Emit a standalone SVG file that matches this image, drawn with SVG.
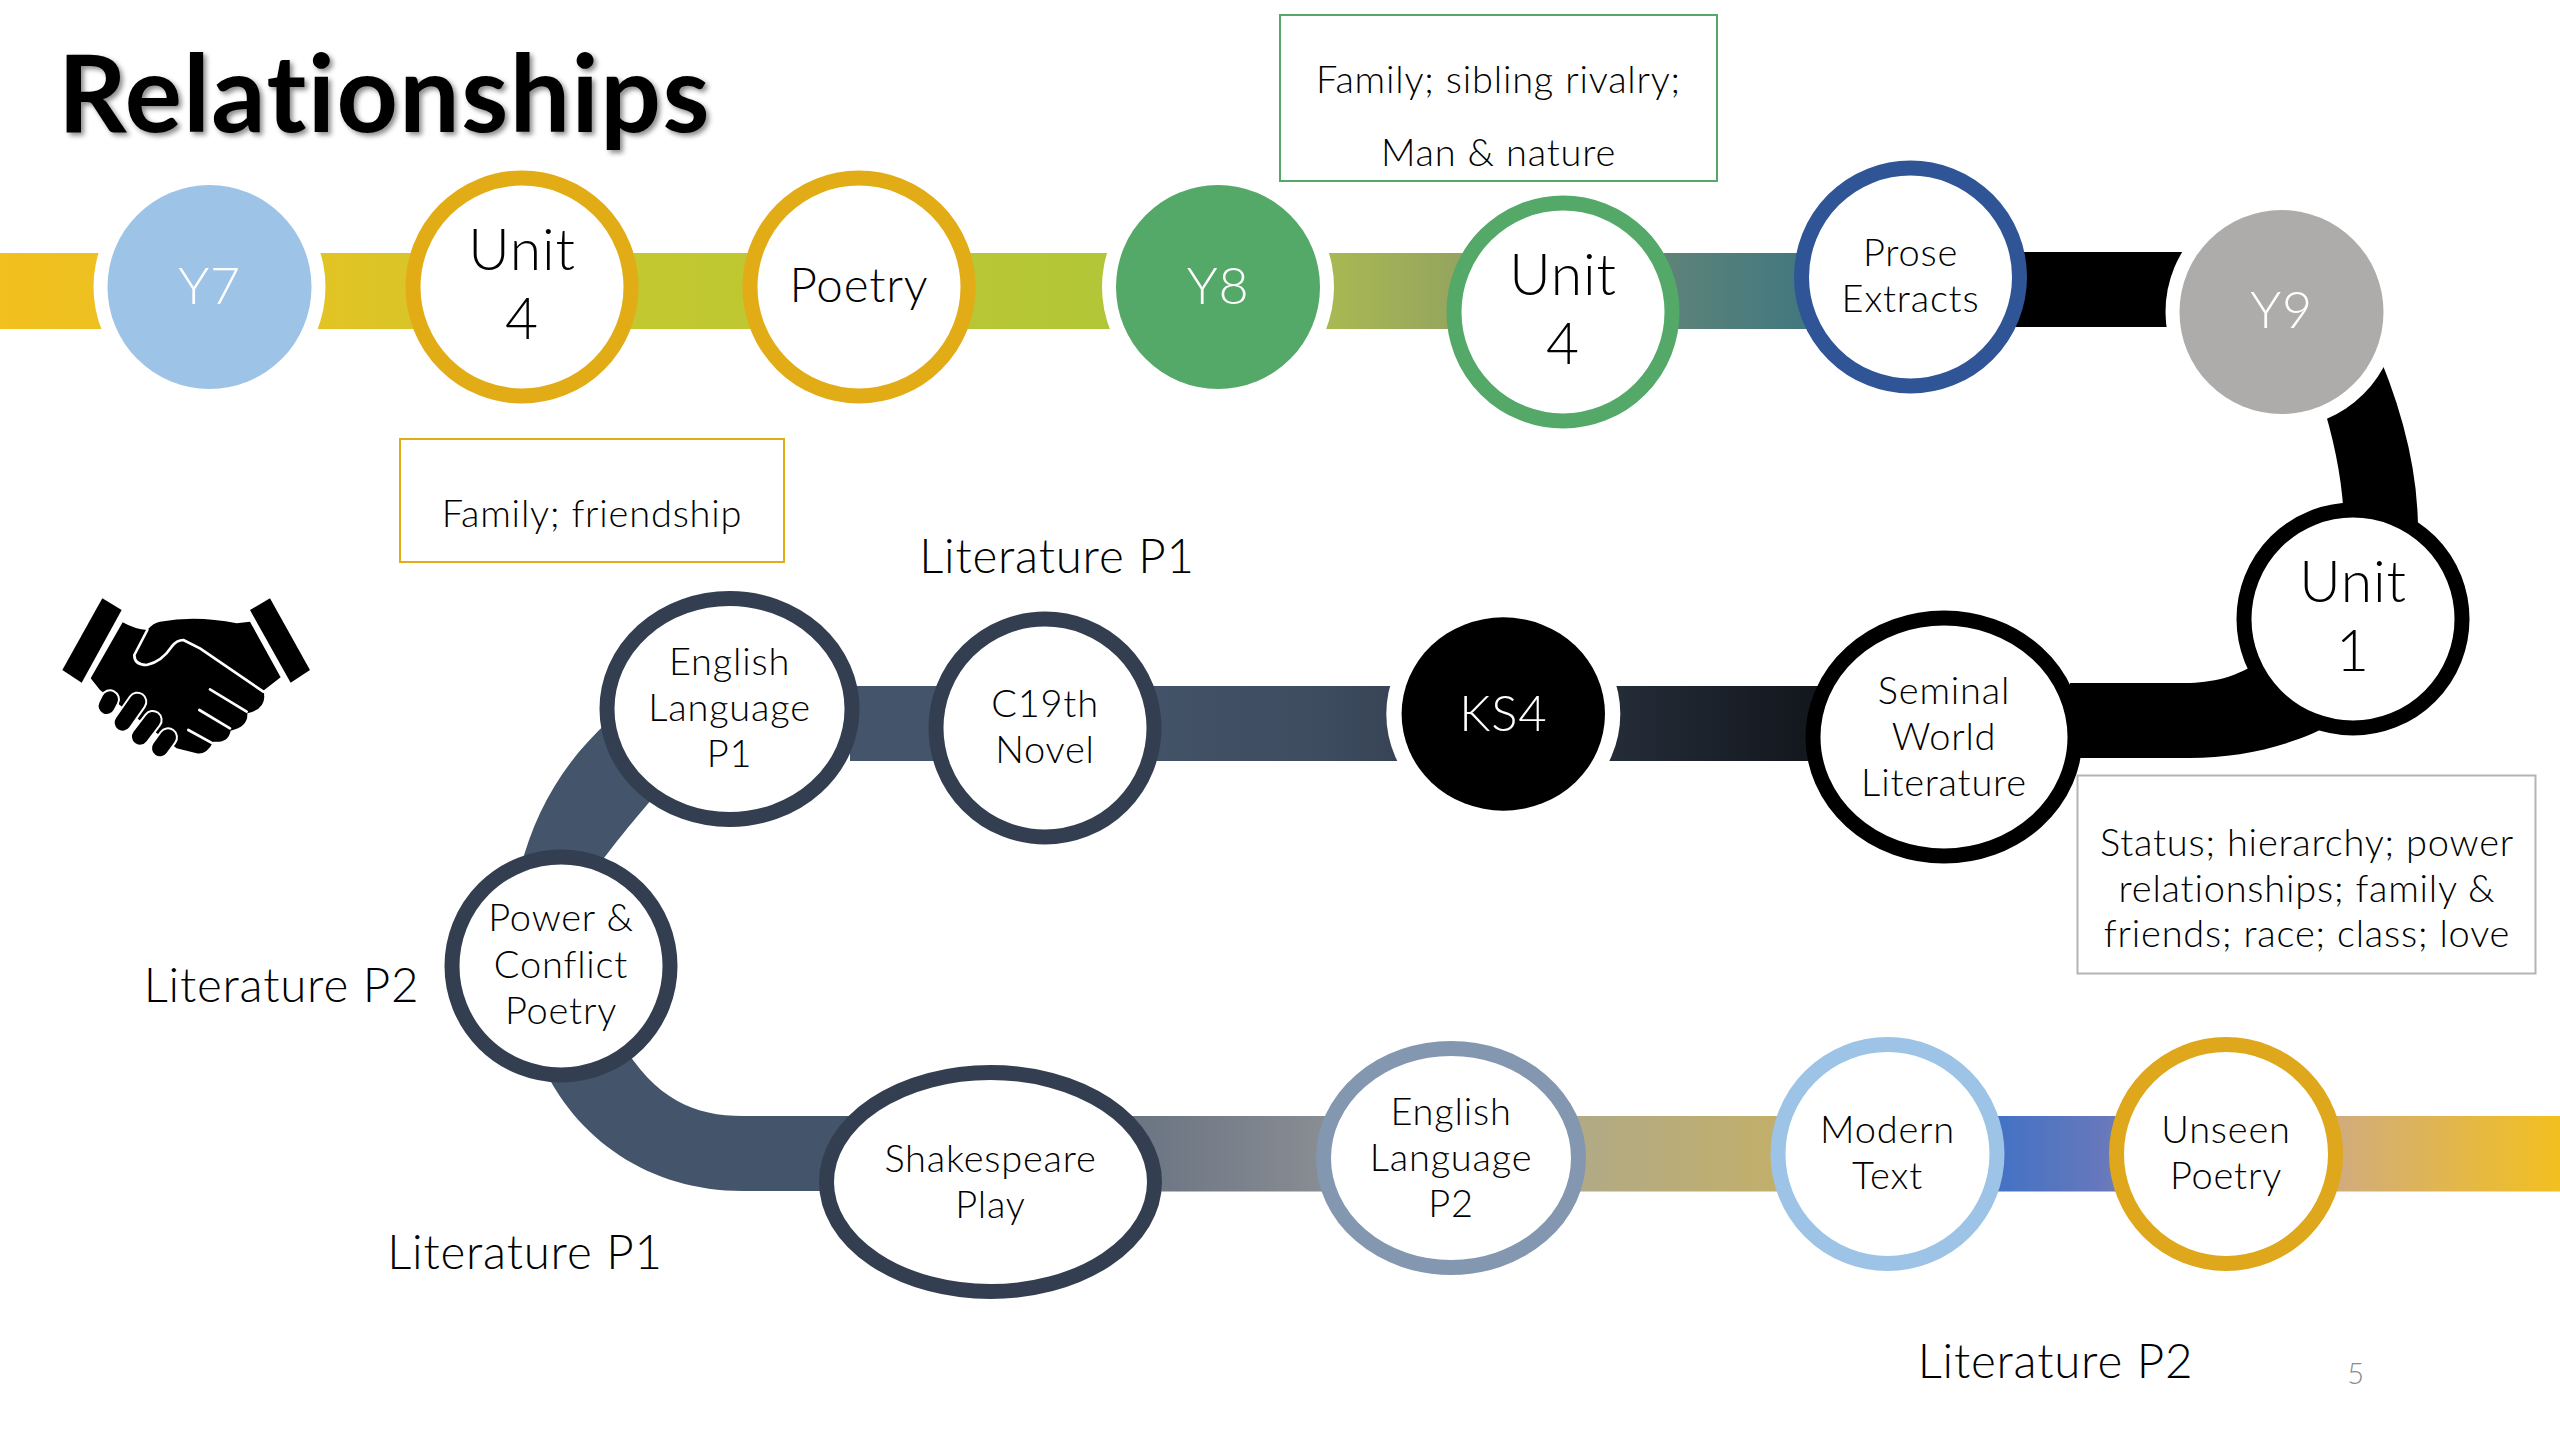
<svg xmlns="http://www.w3.org/2000/svg" width="2560" height="1440" viewBox="0 0 2560 1440">
<style>
text{font-family:Lato,"Liberation Sans",sans-serif;font-weight:300;fill:#000;text-anchor:middle;font-variant-ligatures:none;letter-spacing:.8px}
.big{font-size:57px}.mid{font-size:47.500px}.sm{font-size:38px}.lab{font-size:47.500px}.yr{font-size:52px}
.w{fill:#fff}
.ring{fill:#fff;stroke-width:15}
.halo{fill:#fff}
.box{fill:#fff;stroke-width:2}
.title{font-size:107px;font-weight:700;letter-spacing:1.500px}
</style>
<defs>
<linearGradient id="g1" gradientUnits="userSpaceOnUse" x1="0" y1="0" x2="1800" y2="0">
<stop offset="0" stop-color="#F2C01F"/><stop offset=".178" stop-color="#E3C324"/><stop offset=".355" stop-color="#C2C82F"/><stop offset=".61" stop-color="#B3C637"/><stop offset=".74" stop-color="#A8B852"/><stop offset=".83" stop-color="#8F9F62"/><stop offset=".93" stop-color="#5C8279"/><stop offset="1" stop-color="#42787F"/>
</linearGradient>
<linearGradient id="g2" gradientUnits="userSpaceOnUse" x1="1100" y1="0" x2="1830" y2="0">
<stop offset="0" stop-color="#44546A"/><stop offset=".3" stop-color="#3E4C60"/><stop offset="1" stop-color="#11151B"/>
</linearGradient>
<linearGradient id="g3" gradientUnits="userSpaceOnUse" x1="860" y1="0" x2="2560" y2="0">
<stop offset="0" stop-color="#44546A"/><stop offset=".18" stop-color="#6F7885"/><stop offset=".27" stop-color="#888C93"/><stop offset=".425" stop-color="#B1AA85"/><stop offset=".565" stop-color="#C6B064"/><stop offset=".566" stop-color="#4472C4"/><stop offset=".67" stop-color="#4472C4"/><stop offset=".73" stop-color="#6678BC"/><stop offset=".87" stop-color="#D1AC7C"/><stop offset="1" stop-color="#F2C01F"/>
</linearGradient>
<filter id="sh" x="-5%" y="-20%" width="110%" height="140%"><feDropShadow dx="3" dy="3" stdDeviation="2.500" flood-color="#000" flood-opacity=".45"/></filter>
</defs>
<rect width="2560" height="1440" fill="#fff"/>
<g id="connectors">
<rect x="0" y="253" width="1830" height="76" fill="url(#g1)"/>
<rect x="1900" y="252" width="290" height="75" fill="#000"/>
<path d="M2370 335Q2418 440 2418 530L2418 600C2418 700 2300 758 2190 758L2070 758L2070 683L2186 683C2210 683 2240 677 2260 660L2344 600L2344 530Q2344 470 2320 395Z" fill="#000"/>
<rect x="850" y="686" width="990" height="75" fill="url(#g2)"/>
<path d="M520 870C535 810 565 760 610 720L660 790C625 830 610 850 595 870Z" fill="#44546A"/>
<path d="M540 1060C575 1140 650 1191 743 1191L860 1191L860 1116L743 1116C695 1116 655 1100 620 1040Z" fill="#44546A"/>
<rect x="860" y="1116" width="1700" height="75.500" fill="url(#g3)"/>
</g>
<text class="title" x="384.500" y="132" filter="url(#sh)">Relationships</text>
<g id="y7"><circle class="halo" cx="209.500" cy="287" r="116"/><circle cx="209.500" cy="287" r="102" fill="#9DC3E6"/><text class="yr w" x="209.500" y="304">Y7</text></g>
<g id="unit4a"><circle class="ring" cx="522" cy="287" r="109" stroke="#E2AC17"/><text class="big" x="522" y="270">Unit</text><text class="big" x="522" y="339">4</text></g>
<g id="poetry"><circle class="ring" cx="859" cy="287" r="109" stroke="#E2AC17"/><text class="mid" x="859" y="302">Poetry</text></g>
<g id="y8"><circle class="halo" cx="1218" cy="287" r="116"/><circle cx="1218" cy="287" r="102" fill="#54A868"/><text class="yr w" x="1218" y="304">Y8</text></g>
<g id="unit4b"><circle class="ring" cx="1563" cy="312" r="109" stroke="#54A868"/><text class="big" x="1563" y="295">Unit</text><text class="big" x="1563" y="364">4</text></g>
<g id="prose"><circle class="ring" cx="1910.500" cy="277" r="109" stroke="#2F5597"/><text class="sm" x="1910.500" y="266">Prose</text><text class="sm" x="1910.500" y="312">Extracts</text></g>
<g id="y9"><circle class="halo" cx="2281.500" cy="312" r="116"/><circle cx="2281.500" cy="312" r="102" fill="#AEABAB"/><text class="yr w" x="2281.500" y="328">Y9</text></g>
<g id="unit1"><circle class="ring" cx="2353" cy="619" r="109" stroke="#000"/><text class="big" x="2353" y="601.500">Unit</text><text class="big" x="2353" y="670.500">1</text></g>
<g id="seminal"><ellipse class="ring" cx="1944" cy="737" rx="131" ry="119" stroke="#000"/><text class="sm" x="1944" y="703.500">Seminal</text><text class="sm" x="1944" y="749.500">World</text><text class="sm" x="1944" y="795.500">Literature</text></g>
<g id="ks4"><ellipse class="halo" cx="1503.300" cy="714" rx="117" ry="111"/><ellipse cx="1503.300" cy="714" rx="101.700" ry="96.700" fill="#000"/><text class="w" style="font-size:49px" x="1503.300" y="731">KS4</text></g>
<g id="c19"><circle class="ring" cx="1045" cy="728" r="109" stroke="#333F50"/><text class="sm" x="1045" y="717">C19th</text><text class="sm" x="1045" y="763">Novel</text></g>
<g id="englishp1"><ellipse class="ring" cx="729.500" cy="709" rx="122.500" ry="110.500" stroke="#333F50"/><text class="sm" x="729.500" y="675">English</text><text class="sm" x="729.500" y="721">Language</text><text class="sm" x="729.500" y="767">P1</text></g>
<g id="power"><circle class="ring" cx="561" cy="966" r="109" stroke="#333F50"/><text class="sm" x="561" y="931">Power &amp;</text><text class="sm" x="561" y="978">Conflict</text><text class="sm" x="561" y="1024">Poetry</text></g>
<g id="shakespeare"><ellipse class="ring" cx="990.500" cy="1182" rx="164" ry="109.500" stroke="#333F50"/><text class="sm" x="990.500" y="1172">Shakespeare</text><text class="sm" x="990.500" y="1218">Play</text></g>
<g id="englishp2"><ellipse class="ring" cx="1451" cy="1158" rx="127.500" ry="109.500" stroke="#8497B0"/><text class="sm" x="1451" y="1125">English</text><text class="sm" x="1451" y="1171">Language</text><text class="sm" x="1451" y="1217">P2</text></g>
<g id="modern"><circle class="ring" cx="1887.500" cy="1154" r="109.500" stroke="#9DC3E6"/><text class="sm" x="1887.500" y="1143">Modern</text><text class="sm" x="1887.500" y="1189">Text</text></g>
<g id="unseen"><circle class="ring" cx="2226" cy="1154" r="109.500" stroke="#DEA71C"/><text class="sm" x="2226" y="1143">Unseen</text><text class="sm" x="2226" y="1189">Poetry</text></g>
<g id="box-family"><rect class="box" x="400" y="439" width="384" height="123" stroke="#E2AC17"/><text class="sm" x="592" y="527">Family; friendship</text></g>
<g id="box-sibling"><rect class="box" x="1280" y="15" width="437" height="166" stroke="#54A868"/><text class="sm" x="1498.500" y="93">Family; sibling rivalry;</text><text class="sm" x="1498.500" y="166">Man &amp; nature</text></g>
<g id="box-status"><rect class="box" x="2077.500" y="775.500" width="458" height="198" stroke="#B4B4B4"/><text class="sm" x="2307" y="855.500">Status; hierarchy; power</text><text class="sm" x="2307" y="901.500">relationships; family &amp;</text><text class="sm" x="2307" y="947">friends; race; class; love</text></g>
<text class="lab" x="1057" y="572.500">Literature P1</text>
<text class="lab" x="281.500" y="1002">Literature P2</text>
<text class="lab" x="525" y="1268.500">Literature P1</text>
<text class="lab" x="2055.500" y="1377.500">Literature P2</text>
<text x="2356" y="1384" style="font-size:29px;fill:#8B8B8B">5</text>
<g id="handshake" transform="translate(40 580) scale(.3333)">
<path d="M187 55L245 90L125 308L67 270Z" fill="#000"/>
<path d="M630 90L690 55L810 270L752 308Z" fill="#000"/>
<path d="M248 127Q285 148 322 150Q340 128 360 125Q470 105 590 130L630 125L722 292L670 332Q685 385 622 400Q625 440 572 452Q565 490 520 485Q500 525 470 520L410 505L180 330L152 295Z" fill="#000"/>
<g fill="none" stroke="#fff" stroke-width="8" stroke-linecap="round" stroke-linejoin="round">
<path d="M322 150L283 225Q283 255 320 255Q365 245 395 200Q410 180 430 180L480 205L670 335"/>
<path d="M510 328L620 395M478 390L570 445M445 450L518 490"/>
</g>
<g fill="none" stroke-linecap="round">
<g stroke="#fff" stroke-width="60"><path d="M210 358L200 378M292 365L248 428M338 420L300 470M384 472L360 505"/></g>
<g stroke="#000" stroke-width="48"><path d="M210 358L200 378M292 365L248 428M338 420L300 470M384 472L360 505"/></g>
</g>
</g>
</svg>
